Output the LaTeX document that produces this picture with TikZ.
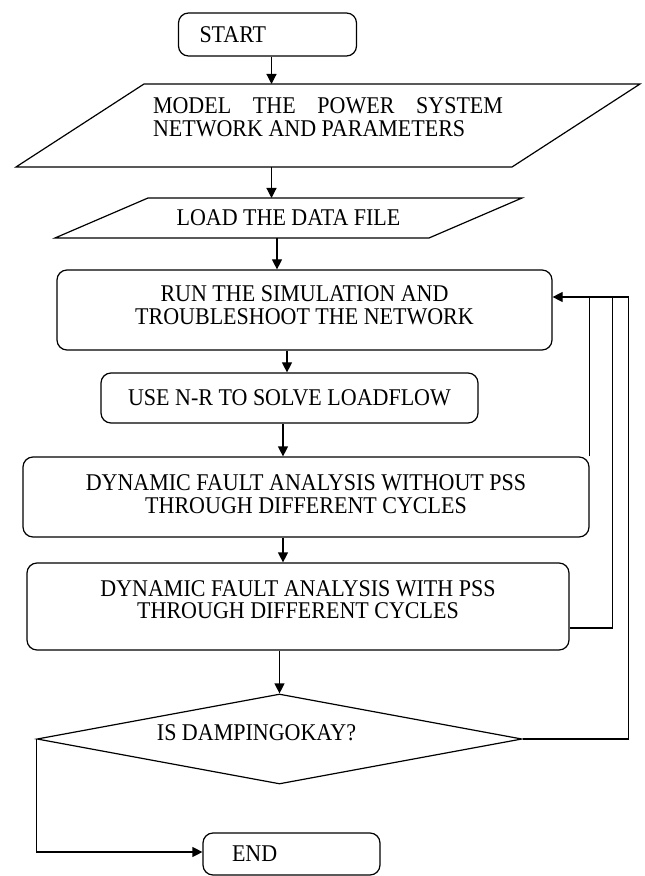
\documentclass[tikz,border=0pt]{standalone}
\usepackage{fontspec}
\setmainfont{Liberation Serif}[FakeStretch=0.917]
\usetikzlibrary{shapes.geometric, arrows.meta, positioning, calc}

\begin{document}
\begin{tikzpicture}[x=0.5pt, y=-0.5pt,
    every node/.style={font=\fontsize{12}{11.25}\selectfont},
    stepbox/.style={draw, rounded corners=5pt, line width=0.6pt, align=center, inner sep=0pt},
    iobox/.style={inner sep=0pt, outer sep=0pt, align=center},
    decision/.style={draw, diamond, line width=0.6pt, inner sep=0pt},
    arr/.style={-{Triangle[length=5pt,width=5pt]}, line width=0.6pt},
    line/.style={line width=0.6pt}]
    \useasboundingbox (0,0) rectangle (644,876);

    % Start
    \node[stepbox, minimum width=89pt, minimum height=21.5pt, text width=68pt, align=left] (start) at (267.5,34.5) {START};

    % Model the network (parallelogram)
    \node[iobox, minimum width=312pt, minimum height=41.5pt, text depth=8.5pt, align=left] (model) at (328,125.5)
        {\makebox[175pt][s]{MODEL THE POWER SYSTEM}\\NETWORK AND PARAMETERS};
    \draw[line] ($(model.north west)+(128,0)$) -- (model.north east) -- ($(model.south east)-(128,0)$) -- (model.south west) -- cycle;

    % Load data (parallelogram)
    \node[iobox, minimum width=233.5pt, minimum height=20pt] (load) at (288.5,218) {LOAD THE DATA FILE};
    \draw[line] ($(load.north west)+(93,0)$) -- (load.north east) -- ($(load.south east)-(93,0)$) -- (load.south west) -- cycle;

    % Process steps
    \node[stepbox, minimum width=247.5pt, minimum height=40pt, text depth=5pt] (run) at (304.5,310)
        {RUN THE SIMULATION AND\\TROUBLESHOOT THE NETWORK};
    \node[stepbox, minimum width=188.5pt, minimum height=25pt] (use) at (289.5,398) {USE N-R TO SOLVE LOADFLOW};
    \node[stepbox, minimum width=283pt, minimum height=40pt, text depth=3pt] (nopss) at (306,497)
        {DYNAMIC FAULT ANALYSIS WITHOUT PSS\\THROUGH DIFFERENT CYCLES};
    \node[stepbox, minimum width=271pt, minimum height=43.5pt, text depth=7pt] (withpss) at (298,606.5)
        {DYNAMIC FAULT ANALYSIS WITH PSS\\THROUGH DIFFERENT CYCLES};

    % Decision
    \node[decision, minimum width=242.5pt, minimum height=45pt] (check) at (279.5,739) {};
    \node (checktxt) at (256.5,733) {IS DAMPINGOKAY?};

    % End
    \node[stepbox, minimum width=88.5pt, minimum height=21pt, text width=59.5pt, align=left] (finish) at (291.5,854) {END};

    % Main flow
    \draw[arr] ([xshift=2pt]start.south) -- ([xshift=2pt]start.south |- model.north);
    \draw[arr] ([xshift=2pt]model.south -| start) -- ([xshift=2pt]load.north -| start);
    \draw[arr] ([xshift=-5.75pt]load.south) -- ([xshift=-5.75pt]load.south |- run.north);
    \draw[arr] ([xshift=-1.25pt]use.north |- run.south) -- ([xshift=-1.25pt]use.north);
    \draw[arr] ([xshift=-3.25pt]use.south) -- ([xshift=-3.25pt]use.south |- nopss.north);
    \draw[arr] ([xshift=-3.25pt]use.south |- nopss.south) -- ([xshift=-3.25pt]use.south |- withpss.north);
    \draw[arr] (check.north |- withpss.south) -- (check.north);

    % Feedback loops
    \coordinate (loop) at ([yshift=6.5pt]run.east);
    \draw[arr] (check.east) -- ++(106,0) |- (loop);
    \draw[line] (nopss.north east) -- (nopss.north east |- loop);
    \draw[line] ([yshift=-10.75pt]withpss.east) -| ($(loop)+(60,0)$);
    \draw[arr] (check.west) |- ([yshift=1pt]finish.west);
\end{tikzpicture}
\end{document}
